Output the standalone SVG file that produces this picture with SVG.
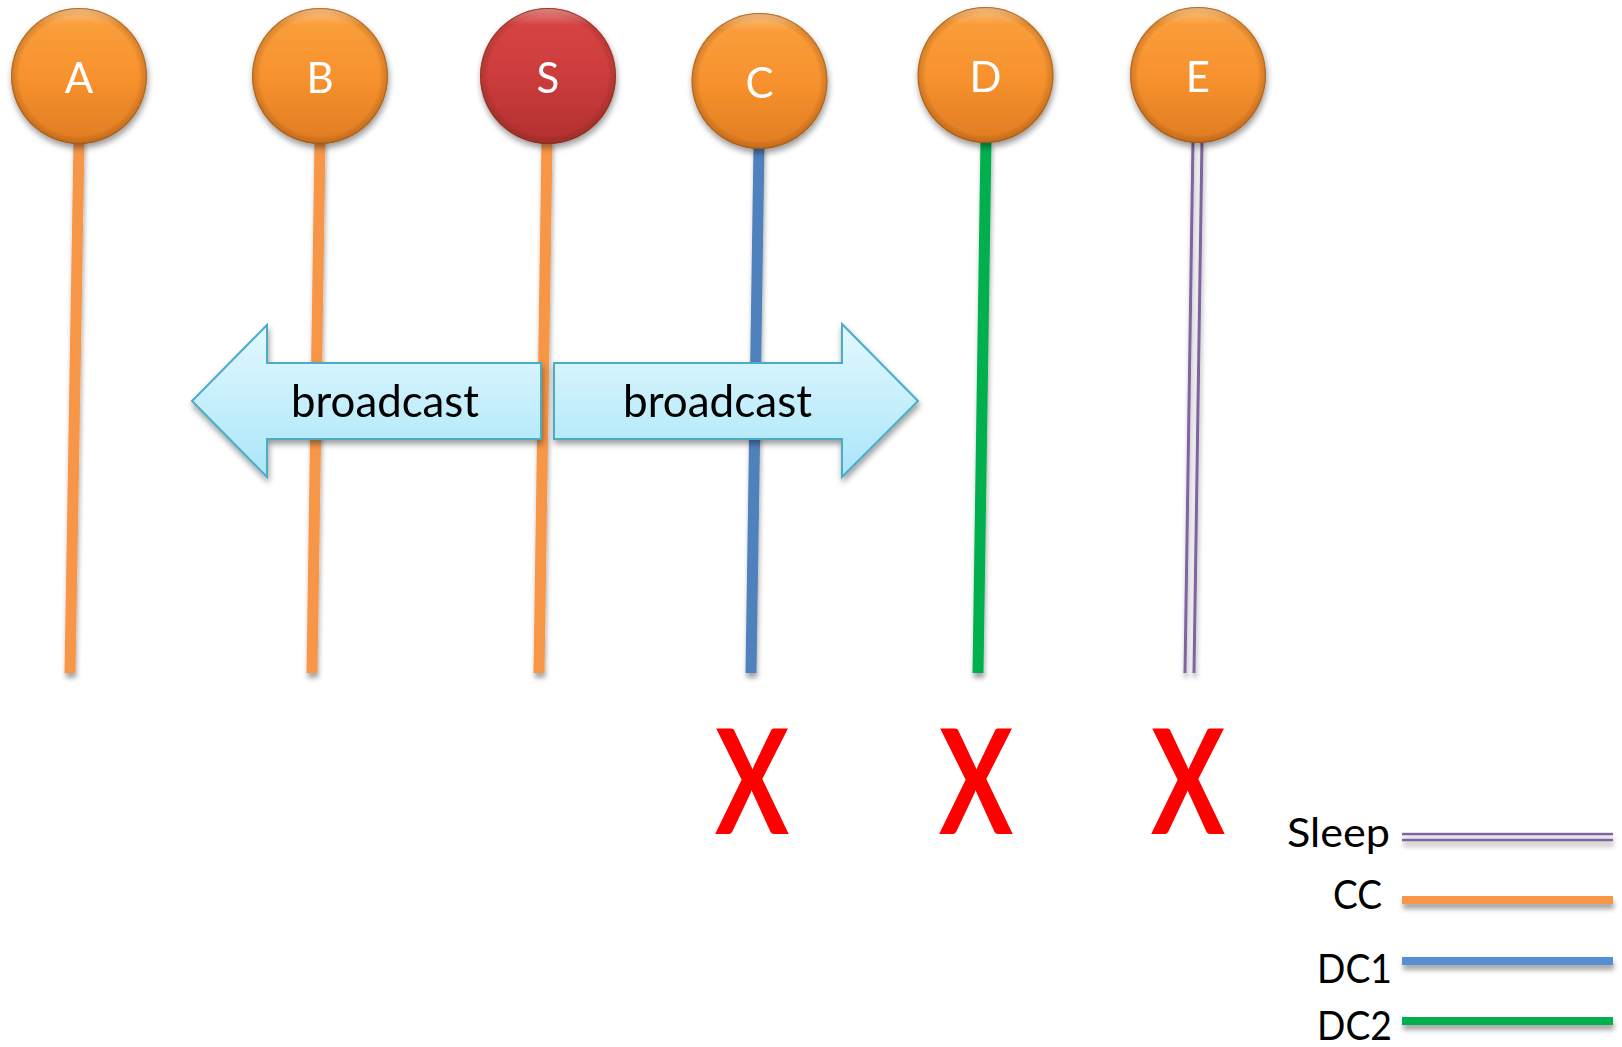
<svg xmlns="http://www.w3.org/2000/svg" width="1622" height="1047" viewBox="0 0 1622 1047">
  <defs>
    <linearGradient id="orangeFill" x1="0" y1="0" x2="0" y2="1">
      <stop offset="0" stop-color="#FBA03E"/>
      <stop offset="0.5" stop-color="#F7922E"/>
      <stop offset="1" stop-color="#E07C22"/>
    </linearGradient>
    <linearGradient id="redFill" x1="0" y1="0" x2="0" y2="1">
      <stop offset="0" stop-color="#DA4646"/>
      <stop offset="0.5" stop-color="#CC3C3C"/>
      <stop offset="1" stop-color="#B23030"/>
    </linearGradient>
    <radialGradient id="rim" cx="0.5" cy="0.5" r="0.5">
      <stop offset="0.88" stop-color="#000" stop-opacity="0"/>
      <stop offset="0.97" stop-color="#5a2a00" stop-opacity="0.18"/>
      <stop offset="1" stop-color="#3a1a00" stop-opacity="0.45"/>
    </radialGradient>
    <linearGradient id="gloss" x1="0" y1="0" x2="0" y2="1">
      <stop offset="0" stop-color="#fff" stop-opacity="0.35"/>
      <stop offset="0.12" stop-color="#fff" stop-opacity="0"/>
      <stop offset="1" stop-color="#fff" stop-opacity="0"/>
    </linearGradient>
    <linearGradient id="arrowFill" x1="0" y1="0" x2="0" y2="1">
      <stop offset="0" stop-color="#E4F8FE"/>
      <stop offset="1" stop-color="#A9E6F9"/>
    </linearGradient>
    <filter id="shadow" x="-20%" y="-20%" width="140%" height="150%">
      <feGaussianBlur in="SourceAlpha" stdDeviation="3"/>
      <feOffset dx="1" dy="4" result="b"/>
      <feComponentTransfer><feFuncA type="linear" slope="0.4"/></feComponentTransfer>
      <feMerge><feMergeNode/><feMergeNode in="SourceGraphic"/></feMerge>
    </filter>
    <filter id="lineShadow" filterUnits="userSpaceOnUse" x="0" y="0" width="1622" height="1047">
      <feGaussianBlur in="SourceAlpha" stdDeviation="2.5"/>
      <feOffset dx="1" dy="5"/>
      <feComponentTransfer><feFuncA type="linear" slope="0.35"/></feComponentTransfer>
      <feMerge><feMergeNode/><feMergeNode in="SourceGraphic"/></feMerge>
    </filter>
  </defs>
  <style>
    .lbl { font-family: Lato, "Liberation Sans", sans-serif; fill: #fff; font-size: 42px; text-anchor: middle; }
    .cc { stroke: #F79646; stroke-width: 11; fill: none; }
    .dc1 { stroke: #4F81BD; stroke-width: 11; fill: none; }
    .dc2 { stroke: #00B050; stroke-width: 11; fill: none; }
    .sleep { stroke: #8064A2; stroke-width: 3; fill: none; }
    .arrow { fill: url(#arrowFill); stroke: #4BACC6; stroke-width: 2; }
    .btext { font-family: Lato, "Liberation Sans", sans-serif; font-size: 45px; fill: #000; text-anchor: middle; }
    .cross { font-family: Lato, "Liberation Sans", sans-serif; font-size: 145px; font-weight: 700; fill: #FF0000; text-anchor: middle; }
    .leg { font-family: Lato, "Liberation Sans", sans-serif; font-size: 41px; fill: #000; text-anchor: end; }
  </style>

  <rect width="1622" height="1047" fill="#fff"/>

  <!-- lifelines below each node -->
  <g id="connectors" filter="url(#lineShadow)">
    <line class="cc" x1="79" y1="140" x2="70" y2="673"/>
    <line class="cc" x1="320" y1="140" x2="312" y2="673"/>
    <line class="cc" x1="547" y1="140" x2="539" y2="673"/>
    <line class="dc1" x1="759" y1="145" x2="751" y2="673"/>
    <line class="dc2" x1="986" y1="140" x2="978" y2="673"/>
    <line class="sleep" x1="1193" y1="140" x2="1185" y2="673"/>
    <line class="sleep" x1="1202" y1="140" x2="1194" y2="673"/>
  </g>

  <!-- nodes -->
  <g id="node-A" filter="url(#shadow)">
    <circle cx="79" cy="76" r="68" fill="url(#orangeFill)"/>
    <circle cx="79" cy="76" r="68" fill="url(#rim)"/>
    <circle cx="79" cy="76" r="67" fill="url(#gloss)"/>
    <text class="lbl" x="79" y="93">A</text>
  </g>
  <g id="node-B" filter="url(#shadow)">
    <circle cx="320" cy="76" r="68" fill="url(#orangeFill)"/>
    <circle cx="320" cy="76" r="68" fill="url(#rim)"/>
    <circle cx="320" cy="76" r="67" fill="url(#gloss)"/>
    <text class="lbl" x="320" y="93">B</text>
  </g>
  <g id="node-S" filter="url(#shadow)">
    <circle cx="548" cy="76" r="68" fill="url(#redFill)"/>
    <circle cx="548" cy="76" r="68" fill="url(#rim)"/>
    <circle cx="548" cy="76" r="67" fill="url(#gloss)"/>
    <text class="lbl" x="548" y="93">S</text>
  </g>
  <g id="node-C" filter="url(#shadow)">
    <circle cx="759.5" cy="81" r="68" fill="url(#orangeFill)"/>
    <circle cx="759.5" cy="81" r="68" fill="url(#rim)"/>
    <circle cx="759.5" cy="81" r="67" fill="url(#gloss)"/>
    <text class="lbl" x="759.5" y="98">C</text>
  </g>
  <g id="node-D" filter="url(#shadow)">
    <circle cx="985.5" cy="75" r="68" fill="url(#orangeFill)"/>
    <circle cx="985.5" cy="75" r="68" fill="url(#rim)"/>
    <circle cx="985.5" cy="75" r="67" fill="url(#gloss)"/>
    <text class="lbl" x="985.5" y="92">D</text>
  </g>
  <g id="node-E" filter="url(#shadow)">
    <circle cx="1198" cy="75" r="68" fill="url(#orangeFill)"/>
    <circle cx="1198" cy="75" r="68" fill="url(#rim)"/>
    <circle cx="1198" cy="75" r="67" fill="url(#gloss)"/>
    <text class="lbl" x="1198" y="92">E</text>
  </g>

  <!-- broadcast arrows from S -->
  <g id="broadcast-left" filter="url(#shadow)">
    <polygon class="arrow" points="541,363 267,363 267,325 192,401 267,477 267,439 541,439"/>
    <text class="btext" x="385" y="417" textLength="188" lengthAdjust="spacingAndGlyphs">broadcast</text>
  </g>
  <g id="broadcast-right" filter="url(#shadow)">
    <polygon class="arrow" points="554,363 842,363 842,324 918,401 842,477 842,439 554,439"/>
    <text class="btext" x="717.5" y="417" textLength="189" lengthAdjust="spacingAndGlyphs">broadcast</text>
  </g>

  <!-- failed nodes -->
  <g id="marks">
    <text class="cross" x="752" y="834" textLength="74" lengthAdjust="spacingAndGlyphs">X</text>
    <text class="cross" x="976" y="834" textLength="74" lengthAdjust="spacingAndGlyphs">X</text>
    <text class="cross" x="1188" y="834" textLength="74" lengthAdjust="spacingAndGlyphs">X</text>
  </g>

  <!-- legend -->
  <g id="legend">
    <text class="leg" x="1390" y="847" textLength="103" lengthAdjust="spacingAndGlyphs">Sleep</text>
    <text class="leg" x="1382" y="909" textLength="49" lengthAdjust="spacingAndGlyphs">CC</text>
    <text class="leg" x="1392" y="983" textLength="75" lengthAdjust="spacingAndGlyphs">DC1</text>
    <text class="leg" x="1392" y="1040" textLength="75" lengthAdjust="spacingAndGlyphs">DC2</text>
    <g filter="url(#lineShadow)">
      <rect x="1402" y="832.8" width="211" height="2.5" fill="#8064A2"/>
      <rect x="1402" y="838.8" width="211" height="2.5" fill="#8064A2"/>
      <rect x="1402" y="896" width="211" height="8" fill="#F79646"/>
      <rect x="1402" y="957" width="211" height="8" fill="#558ED5"/>
      <rect x="1402" y="1017" width="211" height="8" fill="#00B050"/>
    </g>
  </g>
</svg>
